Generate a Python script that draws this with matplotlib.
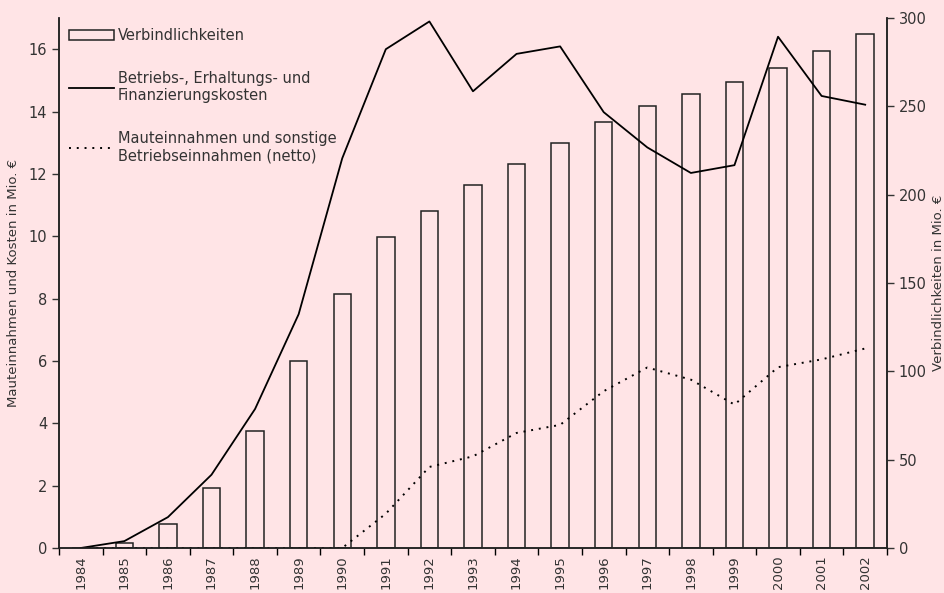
import numpy as np
import matplotlib.pyplot as plt
from matplotlib.patches import Patch
from matplotlib.lines import Line2D

years = list(range(1984, 2003))
verbindlichkeiten = [0, 3.0, 13.4, 34.1, 66.4, 105.8, 143.6, 175.8, 190.9, 205.3,
                     217.1, 229.0, 241.1, 250.1, 257.0, 264.0, 271.5, 281.6, 290.9]
kosten = [0, 0.22, 0.99, 2.35, 4.46, 7.5, 12.5, 16.0, 16.89, 14.65,
          15.85, 16.09, 13.98, 12.85, 12.03, 12.28, 16.4, 14.5, 14.22]
einnahmen = [0, 0, 0, 0, 0, 0, 0, 1.1, 2.6, 2.94,
             3.69, 3.95, 5.03, 5.79, 5.4, 4.6, 5.8, 6.05, 6.4]

bg = '#ffe4e6'
plt.rcParams['font.family'] = ['DejaVu Sans']
plt.rcParams['font.size'] = 10
txt = '#333333'

fig = plt.figure(figsize=(9.45, 5.93), dpi=100, facecolor=bg)
ax = fig.add_axes([0.0624, 0.0759, 0.8762, 0.8937])
ax2 = ax.twinx()
ax2.set_facecolor(bg)
ax.set_zorder(ax2.get_zorder() + 1)
ax.patch.set_visible(False)

x = np.arange(len(years))
ax2.bar(x, verbindlichkeiten, width=0.4, facecolor='none', edgecolor='#222222', linewidth=1.1)
ax.plot(x, kosten, color='black', linewidth=1.3)
ax.plot(x, einnahmen, color='black', linewidth=1.4, linestyle=(0, (1, 3)))

ax.set_xlim(-0.5, len(years) - 0.5)
ax.set_ylim(0, 17)
ax2.set_ylim(0, 300)
ax.set_yticks(range(0, 17, 2))
ax2.set_yticks(range(0, 301, 50))

ax.set_xticks(x)
ax.set_xticklabels([str(y) for y in years], rotation=90, color=txt, fontsize=9.5)
ax.set_xticks(np.arange(-0.5, len(years)), minor=True)
ax.tick_params(axis='x', which='major', length=0, pad=5)
ax.tick_params(axis='x', which='minor', length=5, width=1, direction='out')
ax.tick_params(axis='y', length=5, width=1, colors=txt, labelsize=10.5)
ax2.tick_params(axis='y', length=5, width=1, colors=txt, labelsize=10.5)
ax2.tick_params(axis='x', length=0, labelbottom=False)

for a in (ax, ax2):
    a.spines['top'].set_visible(False)
    for s in ('left', 'right', 'bottom'):
        a.spines[s].set_color('#222222')
        a.spines[s].set_linewidth(1.1)

ax.set_ylabel('Mauteinnahmen und Kosten in Mio. €', color=txt, fontsize=9.5, labelpad=6)
ax2.set_ylabel('Verbindlichkeiten in Mio. €', color=txt, fontsize=9.5, rotation=90, labelpad=4)

handles = [Patch(facecolor='none', edgecolor='#222222', linewidth=1.1),
           Line2D([], [], color='black', linewidth=1.3),
           Line2D([], [], color='black', linewidth=1.4, linestyle=(0, (1, 3)))]
labels = ['Verbindlichkeiten',
          'Betriebs-, Erhaltungs- und\nFinanzierungskosten',
          'Mauteinnahmen und sonstige\nBetriebseinnahmen (netto)']
leg = ax.legend(handles, labels, loc='upper left', frameon=False, fontsize=10.5,
                handlelength=3.1, handleheight=0.6, handletextpad=0.25,
                labelspacing=1.9, bbox_to_anchor=(0.0, 1.0), borderaxespad=0.3)
for t in leg.get_texts():
    t.set_color(txt)

fig.savefig('out.png', dpi=100, facecolor=bg)
